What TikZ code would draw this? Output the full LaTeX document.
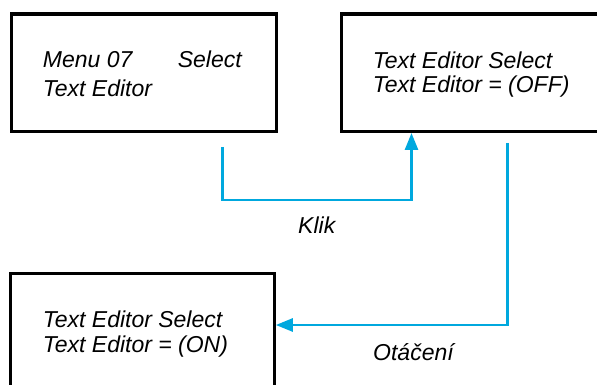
\documentclass[tikz,border=0pt]{standalone}
\usepackage{fontspec}
\setmainfont{Liberation Sans}
\usetikzlibrary{arrows.meta}
\definecolor{lineblue}{RGB}{0,168,222}
\begin{document}
\begin{tikzpicture}[x=1pt,y=-1pt,
  boxline/.style={draw=black,line width=3.3pt,inner sep=0pt,anchor=north west},
  lbl/.style={anchor=base west,inner sep=0pt,font=\fontsize{23}{27}\selectfont\itshape},
  conn/.style={draw=lineblue,line width=2.7pt,-{Triangle[length=17pt,width=13pt]}}
]
\useasboundingbox (0,0) rectangle (597,385);
\clip (0,0) rectangle (597,385);
% boxes
\node[boxline, minimum width=265pt, minimum height=117.5pt] (b1) at (9.5,12.5) {};
\node[boxline, minimum width=290pt, minimum height=117.5pt] (b2) at (339.5,12.5) {};
\node[boxline, minimum width=263.5pt, minimum height=140pt] (b3) at (9,272) {};
% texts
\node[lbl] (t1a) at (42.7,67.4) {\makebox[135pt][l]{Menu 07}Select};
\node[lbl] (t1b) at (42.7,96.7) {Text Editor};
\node[lbl] (t2a) at (372.7,68.4) {Text Editor Select};
\node[lbl] (t2b) at (372.7,92.4) {Text Editor = (OFF)};
\node[lbl] (t3a) at (42.7,327.4) {Text Editor Select};
\node[lbl] (t3b) at (42.7,352.4) {Text Editor = (ON)};
\node[lbl] (klik) at (298,233) {Klik};
\node[lbl] (otac) at (373,360) {Otáčení};
% connectors
\coordinate (k0) at (222.5,147);
\coordinate (kb) at (411.5,200);
\coordinate (k1) at (411.5,133);
\draw[conn] (k0) |- (kb) -- (k1);
\coordinate (o0) at (507.5,143);
\coordinate (ob) at (507.5,325);
\draw[conn] (o0) -- (ob) -- (b3.east |- ob);
\end{tikzpicture}
\end{document}
